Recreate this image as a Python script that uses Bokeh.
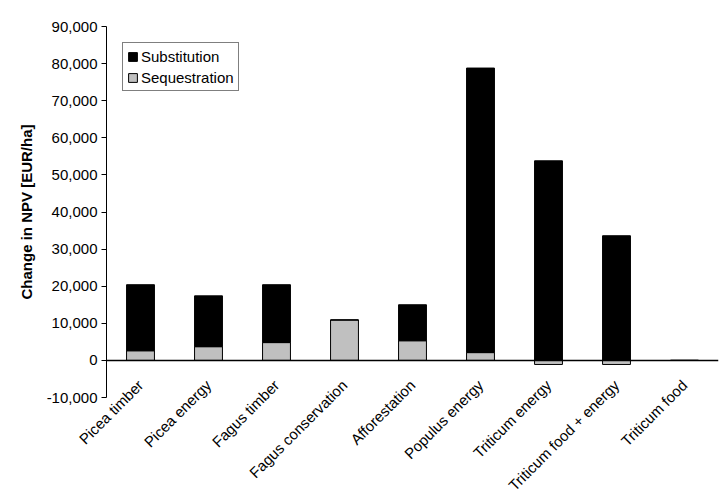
import math
from bokeh.plotting import figure
from bokeh.models import (ColumnDataSource, FactorRange, Range1d, FixedTicker, NumeralTickFormatter,
                          Span, Legend, LegendItem)
from bokeh.embed import file_html
from bokeh.resources import INLINE

categories = ["Picea timber", "Picea energy", "Fagus timber", "Fagus conservation",
              "Afforestation", "Populus energy", "Triticum energy",
              "Triticum food + energy", "Triticum food"]
sequestration = [2600, 3700, 4800, 10900, 5300, 2100, -1100, -1100, 0]
substitution = [17800, 13700, 15600, 0, 9700, 76700, 53800, 33600, 0]
y_ticks = [-10000, 0, 10000, 20000, 30000, 40000, 50000, 60000, 70000, 80000, 90000]
y_min, y_max = -10000, 90000

seq_bottom = [0] * len(categories)
seq_top = sequestration
sub_bottom = [max(s, 0) for s in sequestration]
sub_top = [b + v for b, v in zip(sub_bottom, substitution)]

src = ColumnDataSource(dict(cat=categories, seq_bottom=seq_bottom, seq_top=seq_top,
                            sub_bottom=sub_bottom, sub_top=sub_top))

FONT = "Liberation Sans"

p = figure(x_range=FactorRange(*categories, range_padding=0),
           y_range=Range1d(y_min, y_max),
           width=728, height=502, output_backend="svg", toolbar_location=None,
           min_border_left=106, min_border_right=10, min_border_top=26, min_border_bottom=90)
p.outline_line_color = None
p.xgrid.grid_line_color = None
p.ygrid.grid_line_color = None
p.background_fill_color = "white"
p.border_fill_color = "white"

r_seq = p.vbar(x="cat", bottom="seq_bottom", top="seq_top", width=0.41, source=src,
               fill_color="#C0C0C0", line_color="black", line_width=1)
r_sub = p.vbar(x="cat", bottom="sub_bottom", top="sub_top", width=0.41, source=src,
               fill_color="black", line_color="black", line_width=1)

p.add_layout(Span(location=0, dimension="width", line_color="black", line_width=1.5))

# y axis
ya = p.yaxis[0]
ya.ticker = FixedTicker(ticks=y_ticks)
ya.formatter = NumeralTickFormatter(format="0,0")
ya.major_tick_out = 5
ya.major_tick_in = 0
ya.minor_tick_line_color = None
ya.axis_line_color = "black"
ya.major_tick_line_color = "black"
ya.major_label_text_font = FONT
ya.major_label_text_font_size = "15px"
ya.major_label_text_color = "black"
ya.major_label_standoff = 4
ya.axis_label = "Change in NPV [EUR/ha]"
ya.axis_label_text_font = FONT
ya.axis_label_text_font_size = "15px"
ya.axis_label_text_font_style = "bold"
ya.axis_label_text_color = "black"
ya.axis_label_standoff = 9

# x axis: category labels below the plot area, rotated 45 degrees
xa = p.xaxis[0]
xa.axis_line_color = None
xa.major_tick_line_color = None
xa.minor_tick_line_color = None
xa.major_tick_out = 0
xa.major_tick_in = 0
xa.major_label_orientation = math.pi / 4
xa.major_label_text_font = FONT
xa.major_label_text_font_size = "15px"
xa.major_label_text_color = "black"
xa.major_label_standoff = -15

legend = Legend(items=[LegendItem(label="Substitution", renderers=[r_sub]),
                       LegendItem(label="Sequestration", renderers=[r_seq])],
                location="top_left")
legend.border_line_color = "black"
legend.border_line_width = 1
legend.background_fill_alpha = 1
legend.label_text_font = FONT
legend.label_text_font_size = "15px"
legend.label_text_color = "black"
legend.glyph_width = 11
legend.glyph_height = 11
legend.label_height = 18
legend.label_standoff = 3
legend.spacing = 3
legend.padding = 4
legend.margin = 16
p.add_layout(legend)

open("out.html", "w").write(file_html(p, INLINE))
